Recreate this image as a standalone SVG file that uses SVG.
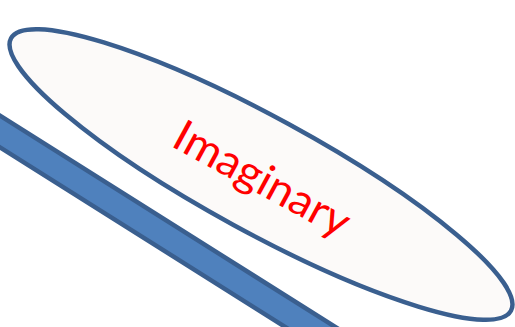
<svg xmlns="http://www.w3.org/2000/svg" width="515" height="327" viewBox="0 0 515 327">
<style>
.shape{stroke:#3A5F8F;stroke-width:4.5}
.label{font-family:Lato,"Liberation Sans",sans-serif;fill:#FF0000;font-size:44px}
</style>
<rect width="515" height="327" fill="#FFFFFF"/>
<g id="bar">
<polygon class="shape" fill="#4F81BD" points="-20,103.1 600,493.7 600,525.3 -20,134.7"/>
</g>
<g id="imaginary">
<ellipse class="shape" fill="#FCFAF9" cx="261" cy="174.5" rx="284.7" ry="57.5" transform="rotate(28.6 261 174.5)"/>
<text class="label" transform="translate(255,192) rotate(28.6)" x="0" y="0" text-anchor="middle" textLength="194" lengthAdjust="spacingAndGlyphs">Imaginary</text>
</g>
</svg>
